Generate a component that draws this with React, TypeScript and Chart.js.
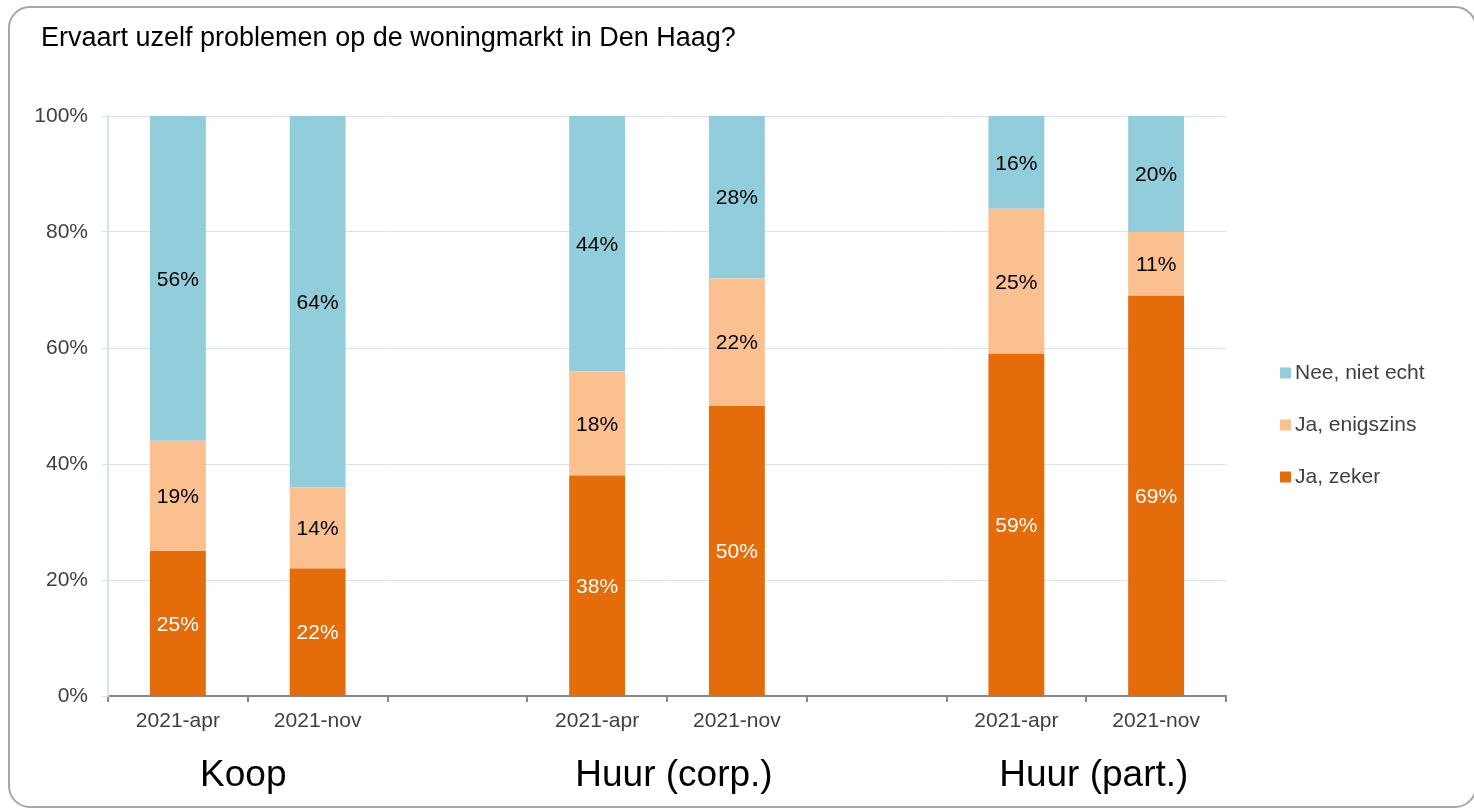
import React, { useEffect, useRef } from 'react';
import { Chart, registerables } from 'chart.js';

Chart.register(...registerables);

const titleText = 'Ervaart uzelf problemen op de woningmarkt in Den Haag?';
const categories = ['2021-apr', '2021-nov', '', '2021-apr', '2021-nov', '', '2021-apr', '2021-nov'];
const jaZeker = [25, 22, null, 38, 50, null, 59, 69];
const jaEnigszins = [19, 14, null, 18, 22, null, 25, 11];
const neeNietEcht = [56, 64, null, 44, 28, null, 16, 20];
const seriesNames = ['Ja, zeker', 'Ja, enigszins', 'Nee, niet echt'];
const seriesColors = ['#E46C0A', '#FAC090', '#92CDDC'];
const groupLabels = ['Koop', 'Huur (corp.)', 'Huur (part.)'];
const groupStarts = [0, 3, 6];
const yTickValues = [0, 20, 40, 60, 80, 100];

const FONT = '"Liberation Sans", Arial, sans-serif';
const groupLabelShift = [-4.5, 7, 7.5];

const titlePlugin = {
  id: 'customTitle',
  afterDraw(chart: any) {
    const ctx = chart.ctx;
    ctx.save();
    ctx.font = `27px ${FONT}`;
    ctx.textAlign = 'left';
    ctx.textBaseline = 'middle';
    ctx.fillStyle = '#000000';
    ctx.fillText(titleText, 41, chart.chartArea.top - 77.5);
    ctx.restore();
  },
};

const dataLabelPlugin = {
  id: 'dataLabels',
  afterDatasetsDraw(chart: any) {
    const ctx = chart.ctx;
    ctx.save();
    ctx.font = `21px ${FONT}`;
    ctx.textAlign = 'center';
    ctx.textBaseline = 'middle';
    chart.data.datasets.forEach((ds: any, di: number) => {
      const meta = chart.getDatasetMeta(di);
      meta.data.forEach((el: any, i: number) => {
        const v = ds.data[i];
        if (v == null) return;
        const p = el.getProps(['x', 'y', 'base'], true);
        ctx.fillStyle = di === 0 ? '#ffffff' : '#000000';
        ctx.fillText(`${v}%`, p.x, (p.y + p.base) / 2 + 1.5);
      });
    });
    ctx.restore();
  },
};

const legendPlugin = {
  id: 'customLegend',
  afterDraw(chart: any) {
    const ctx = chart.ctx;
    const area = chart.chartArea;
    ctx.save();
    ctx.font = `21px ${FONT}`;
    ctx.textAlign = 'left';
    ctx.textBaseline = 'middle';
    const order = [2, 1, 0];
    order.forEach((di, k) => {
      const cy = area.top + 257 + k * 52;
      const x = area.right + 54;
      ctx.fillStyle = seriesColors[di];
      ctx.fillRect(x, cy - 5.5, 11, 11);
      ctx.fillStyle = '#404040';
      ctx.fillText(seriesNames[di], x + 15, cy);
    });
    ctx.restore();
  },
};

const groupLabelPlugin = {
  id: 'groupLabels',
  afterDraw(chart: any) {
    const ctx = chart.ctx;
    const xs = chart.scales.x;
    ctx.save();
    ctx.font = `37px ${FONT}`;
    ctx.textAlign = 'center';
    ctx.textBaseline = 'middle';
    ctx.fillStyle = '#000000';
    groupLabels.forEach((lab, g) => {
      const s = groupStarts[g];
      const cx = (xs.getPixelForTick(s) + xs.getPixelForTick(s + 1)) / 2 + groupLabelShift[g];
      ctx.fillText(lab, cx, chart.chartArea.bottom + 80);
    });
    ctx.restore();
  },
};

export default function App() {
  const ref = useRef<HTMLCanvasElement>(null);
  useEffect(() => {
    const chart = new Chart(ref.current as HTMLCanvasElement, {
      type: 'bar',
      data: {
        labels: categories,
        datasets: [
          { label: seriesNames[0], data: jaZeker, backgroundColor: seriesColors[0] },
          { label: seriesNames[1], data: jaEnigszins, backgroundColor: seriesColors[1] },
          { label: seriesNames[2], data: neeNietEcht, backgroundColor: seriesColors[2] },
        ] as any,
      },
      options: {
        responsive: false,
        animation: false,
        devicePixelRatio: 1,
        layout: { padding: { left: 0, right: 248, top: 116, bottom: 0 } },
        datasets: { bar: { barPercentage: 0.4, categoryPercentage: 1 } },
        plugins: {
          legend: { display: false },
          tooltip: { enabled: false },
          title: { display: false },
        },
        scales: {
          x: {
            stacked: true,
            afterFit: (s: any) => { s.height = 113; },
            grid: { drawOnChartArea: false, color: '#878787', lineWidth: 2, tickLength: 6, offset: true },
            border: { color: '#878787', width: 2 },
            ticks: {
              autoSkip: false,
              maxRotation: 0,
              color: '#404040',
              padding: 7,
              font: { family: FONT, size: 21 },
            },
          },
          y: {
            stacked: true,
            min: 0,
            max: 100,
            afterFit: (s: any) => { s.width = 108; },
            afterBuildTicks: (s: any) => { s.ticks = yTickValues.map((v) => ({ value: v })); },
            grid: { color: '#d7e3f1', lineWidth: 1, tickLength: 6 },
            border: { color: '#d7e3f1', width: 2 },
            ticks: {
              color: '#404040',
              padding: 14,
              font: { family: FONT, size: 21 },
              callback: (v: any) => `${v}%`,
            },
          },
        },
      } as any,
      plugins: [titlePlugin, dataLabelPlugin, legendPlugin, groupLabelPlugin],
    });
    return () => chart.destroy();
  }, []);

  return (
    <div style={{ position: 'fixed', left: 0, top: 0, width: 1474, height: 809, overflow: 'hidden', background: '#ffffff' }}>
      <div
        style={{
          position: 'absolute',
          left: 8,
          top: 6,
          width: 1469,
          height: 802,
          boxSizing: 'border-box',
          border: '2px solid #a6a6a6',
          borderRadius: 22,
        }}
      />
      <canvas ref={ref} width={1474} height={809} style={{ position: 'absolute', left: 0, top: 0, display: 'block' }} />
    </div>
  );
}
